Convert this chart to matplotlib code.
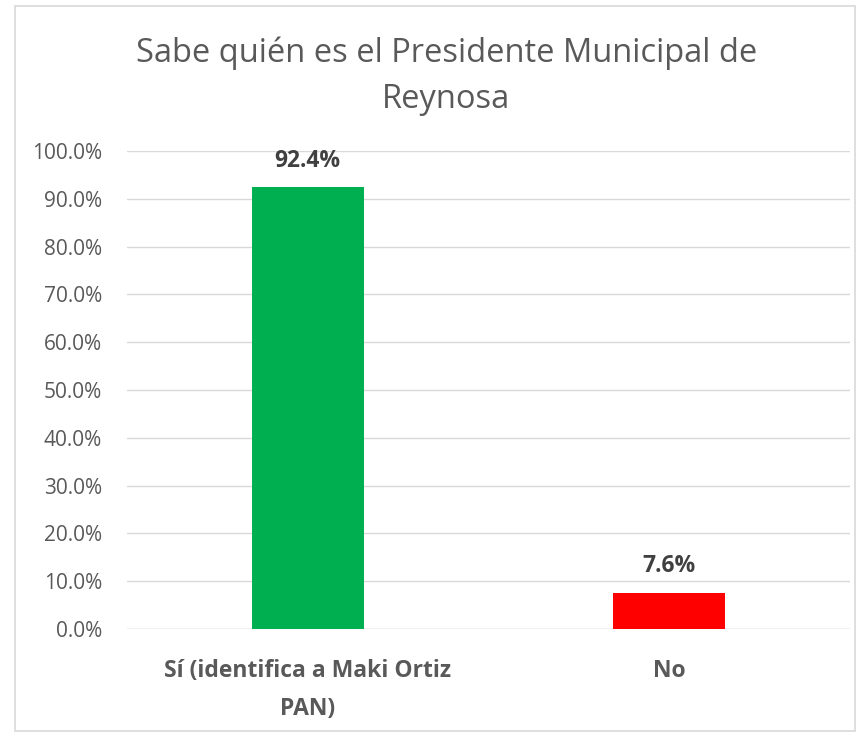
import matplotlib.pyplot as plt
import matplotlib.patches as patches
from matplotlib.ticker import FuncFormatter

categories = ['Sí (identifica a Maki Ortiz\nPAN)', 'No']
values = [0.924, 0.076]
bar_colors = ['#00b050', '#ff0000']

plt.rcParams['font.family'] = ['Open Sans', 'DejaVu Sans']

fig = plt.figure(figsize=(8.57, 7.33), dpi=100)
ax = fig.add_axes([0.148, 0.142, 0.844, 0.652])

x = range(len(categories))
bars = ax.bar(x, values, width=0.31, color=bar_colors, zorder=3)

# data labels
for b, v in zip(bars, values):
    ax.text(b.get_x() + b.get_width() / 2, v + 0.055, '%.1f%%' % (v * 100),
            ha='center', va='center', fontsize=16.5, fontweight='bold', color='#404040')

ax.set_xlim(-0.5, 1.5)
ax.set_ylim(0, 1.0)
ax.set_yticks([i / 10 for i in range(11)])
ax.yaxis.set_major_formatter(FuncFormatter(lambda v, p: '%.1f%%' % (v * 100)))
ax.set_xticks(list(x))
ax.set_xticklabels(categories, fontsize=16.5, fontweight='bold', color='#595959',
                   linespacing=1.75)
ax.tick_params(axis='y', labelsize=15, colors='#595959', length=0, pad=18)
ax.tick_params(axis='x', length=0, pad=22)
ax.grid(axis='y', color='#d9d9d9', linewidth=1, zorder=0)
for s in ax.spines.values():
    s.set_visible(False)
ax.axhline(0, color='#d9d9d9', linewidth=1, zorder=2)

fig.text(0.521, 0.896, 'Sabe quién es el Presidente Municipal de\nReynosa',
         ha='center', va='center', fontsize=23.5, color='#595959', linespacing=1.5)

# chart border
fig.patches.append(patches.Rectangle((15 / 857, 2 / 733), 840 / 857, 725 / 733,
                                     transform=fig.transFigure, fill=False,
                                     edgecolor='#d9d9d9', linewidth=1.2))

fig.savefig('out.png', dpi=100)
